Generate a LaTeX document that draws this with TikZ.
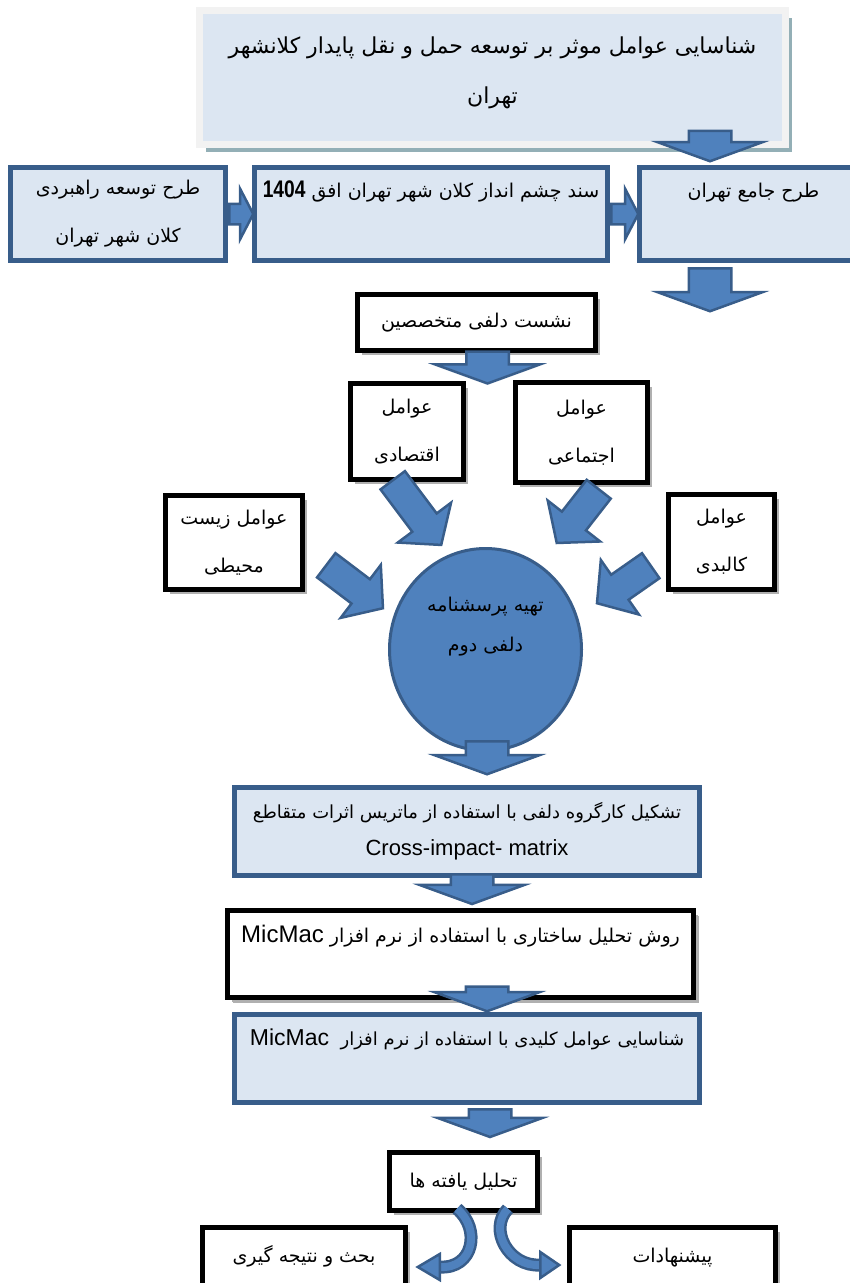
\documentclass[tikz,border=0pt]{standalone}
\usepackage{fontspec}
\usetikzlibrary{shapes.geometric,shapes.arrows,shadows,positioning,calc}
\TeXXeTstate=1
\newfontfamily\fa[Script=Arabic]{DejaVu Sans}
\newfontfamily\lat{Liberation Sans}
\newfontfamily\latnarrow[FakeStretch=0.8]{Liberation Sans}
\newcommand{\rl}[1]{\beginR #1\endR}
\newcommand{\lr}[1]{\beginL{\lat #1}\endL{}}

\definecolor{paleblue}{HTML}{DCE6F2}
\definecolor{boxline}{HTML}{385D8A}
\definecolor{arrowfill}{HTML}{4F81BD}
\definecolor{tealshadow}{HTML}{93AFB6}
\definecolor{greyshadow}{HTML}{B0B0B0}
\definecolor{framegrey}{HTML}{F2F2F2}

\tikzset{
  bluebox/.style={draw=boxline, fill=paleblue, line width=5pt, inner sep=0pt, align=center,
    font=\fa\fontsize{19}{48}\selectfont},
  blackbox/.style={draw=black, fill=white, line width=5.5pt, inner sep=0pt, align=center,
    font=\fa\fontsize{19}{48}\selectfont,
    drop shadow={shadow xshift=4pt, shadow yshift=-4pt, fill=greyshadow, opacity=1}},
  blockarrow/.style={single arrow, draw=boxline, fill=arrowfill, line width=2.5pt,
    inner xsep=0pt, sloped, allow upside down, anchor=tail, pos=0},
  downhead/.style={blockarrow, inner ysep=20pt, minimum width=104pt, single arrow head extend=31pt, single arrow tip angle=140},
  sidehead/.style={blockarrow, inner ysep=9pt, minimum width=48pt, single arrow head extend=15pt, single arrow tip angle=125},
  slanthead/.style={blockarrow, inner ysep=14pt, minimum width=64pt, single arrow head extend=18pt, single arrow tip angle=100},
  bandout/.style={draw=boxline, line width=13pt},
  bandin/.style={draw=arrowfill, line width=8pt},
  curvehead/.style={fill=arrowfill, draw=boxline, line width=2.5pt, line join=miter}
}

% block arrow from #2 to #3
\newcommand{\fatlink}[3]{%
  \path let \p1=#2, \p2=#3, \n1={veclen(\x2-\x1,\y2-\y1)} in
    #2 -- #3 node[#1, minimum height=\n1] {};}

\begin{document}
\begin{tikzpicture}[x=1pt,y=-1pt]
\useasboundingbox (0,0) rectangle (850,1283);

% goal
\node[bluebox, draw=framegrey, line width=7pt, minimum width=586, minimum height=134,
  font=\fa\fontsize{22}{50}\selectfont, text depth=14,
  drop shadow={shadow xshift=6pt, shadow yshift=-8pt, fill=tealshadow, opacity=1}]
  (goal) at (492.5,77) {\rl{شناسایی عوامل موثر بر توسعه حمل و نقل پایدار کلانشهر}\\\rl{تهران}};

% documents
\node[bluebox, minimum width=215, minimum height=93] (strat) at (118,214)
  {\rl{طرح توسعه راهبردی}\\\rl{کلان شهر تهران}};
\node[bluebox, minimum width=353, minimum height=93, text height=30, text depth=63] (vision) at (431,214)
  {\rl{سند چشم انداز کلان شهر تهران افق \beginL{\latnarrow\bfseries\fontsize{24}{40}\selectfont 1404}\endL{}}};
\node[bluebox, minimum width=228, minimum height=93, text height=30, text depth=63] (master) at (753.5,214)
  {\rl{طرح جامع تهران}};

% delphi
\node[blackbox, minimum width=238, minimum height=56] (delphi) at (476.5,322.5) {\rl{نشست دلفی متخصصین}};
\node[blackbox, minimum width=113, minimum height=96] (econ) at (407,431.5) {\rl{عوامل}\\\rl{اقتصادی}};
\node[blackbox, minimum width=132, minimum height=100] (soc) at (581.5,432.5) {\rl{عوامل}\\\rl{اجتماعی}};
\node[blackbox, minimum width=137, minimum height=94] (env) at (234,542.5) {\rl{عوامل زیست}\\\rl{محیطی}};
\node[blackbox, minimum width=106, minimum height=95] (phys) at (721.5,542) {\rl{عوامل}\\\rl{کالبدی}};
\node[ellipse, draw=boxline, fill=arrowfill, line width=3pt, minimum width=192, minimum height=202,
  inner sep=0pt, align=center, font=\fa\fontsize{19}{40}\selectfont, text depth=50]
  (quest) at (485.5,649.5) {\rl{تهیه پرسشنامه}\\\rl{دلفی دوم}};

% micmac steps
\node[bluebox, minimum width=465, minimum height=88, font=\fa\fontsize{18}{37}\selectfont] (matrix) at (467,831.5)
  {\rl{تشکیل کارگروه دلفی با استفاده از ماتریس اثرات متقاطع}\\{\lat\fontsize{22}{37}\selectfont Cross-impact- matrix}};
\node[blackbox, minimum width=466, minimum height=87, text height=32, text depth=55, drop shadow={shadow xshift=5pt, shadow yshift=-5pt, fill=greyshadow, opacity=1}] (structural) at (460.5,954)
  {\rl{روش تحلیل ساختاری با استفاده از نرم افزار \lr{\fontsize{24}{40}\selectfont MicMac}}};
\node[bluebox, minimum width=465, minimum height=88, text height=31, text depth=57, font=\fa\fontsize{18}{40}\selectfont] (key) at (467,1058.5)
  {\rl{شناسایی عوامل کلیدی با استفاده از نرم افزار \ \lr{\fontsize{23}{40}\selectfont MicMac}}};
\node[blackbox, minimum width=148, minimum height=58] (findings) at (463.5,1181.5) {\rl{تحلیل یافته ها}};
\node[blackbox, minimum width=203, minimum height=65, text height=35, text depth=30] (discuss) at (304,1260)
  {\rl{بحث و نتیجه گیری}};
\node[blackbox, minimum width=206, minimum height=65, text height=35, text depth=30] (proposals) at (672.5,1260)
  {\rl{پیشنهادات}};

% block arrows
\fatlink{downhead}{($(goal.south)+(217.5,-18)$)}{($(master.north)+(-43.5,-5)$)}
\fatlink{sidehead}{(strat.east)}{(vision.west)}
\fatlink{sidehead}{(vision.east)}{(master.west)}
\fatlink{downhead}{($(master.south)+(-43.5,4)$)}{($(master.south)+(-43.5,47)$)}
\fatlink{downhead}{($(delphi.south)+(11,-3)$)}{($(delphi.south)+(11,29)$)}
\fatlink{slanthead}{($(econ.south)+(-15,-3)$)}{($(quest.north)+(-45,-3)$)}
\fatlink{slanthead}{($(soc.south)+(18,3)$)}{($(quest.north)+(72,-5)$)}
\fatlink{slanthead}{($(env.east)+(20,22)$)}{($(quest.west)+(-6,-42)$)}
\fatlink{slanthead}{($(phys.west)+(-14,23)$)}{($(quest.east)+(15,-47)$)}
\fatlink{downhead}{($(quest.south)+(1.5,-12)$)}{($(matrix.north)+(20,-12)$)}
\fatlink{downhead}{($(matrix.south)+(5,-5)$)}{($(structural.north)+(11.5,-5)$)}
\fatlink{downhead}{($(structural.south)+(26.5,-15)$)}{($(key.north)+(20,-2)$)}
\fatlink{downhead}{($(key.south)+(23,3)$)}{($(findings.north)+(26.5,-14)$)}

% curved arrows
\draw[bandout] ($(findings.south)+(-6.5,-4.5)$) .. controls +(24,20) and +(34,2) .. ($(discuss.east)+(31.5,7)$);
\draw[bandin] ($(findings.south)+(-6.5,-4.5)$) .. controls +(24,20) and +(34,2) .. ($(discuss.east)+(31.5,7)$);
\filldraw[curvehead] ($(discuss.east)+(31.5,-6)$) -- ($(discuss.east)+(9.5,7)$) -- ($(discuss.east)+(31.5,20)$) -- cycle;
\draw[bandout] ($(findings.south)+(44.5,-4.5)$) .. controls +(-20,20) and +(-32,2) .. ($(proposals.west)+(-26.5,5)$);
\draw[bandin] ($(findings.south)+(44.5,-4.5)$) .. controls +(-20,20) and +(-32,2) .. ($(proposals.west)+(-26.5,5)$);
\filldraw[curvehead] ($(proposals.west)+(-26.5,-8)$) -- ($(proposals.west)+(-7.5,5)$) -- ($(proposals.west)+(-26.5,18)$) -- cycle;
\end{tikzpicture}
\end{document}
